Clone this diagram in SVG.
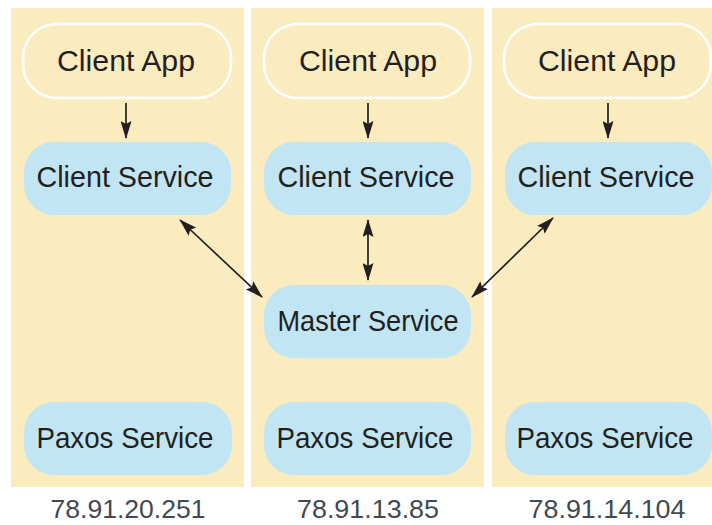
<svg xmlns="http://www.w3.org/2000/svg" width="712" height="525" viewBox="0 0 712 525">
<style>
.panel{fill:#FBECC0}
.app{fill:#FBECC0;stroke:#FFFFFF;stroke-width:2.5}
.svc{fill:#C1E5F3}
.t{font-family:"Liberation Sans",Arial,sans-serif;font-size:29px;fill:#231F20;text-anchor:middle}
.ip{font-family:"Liberation Sans",Arial,sans-serif;font-size:26px;fill:#414A4F;text-anchor:middle}
.c{stroke:#231F20;stroke-width:1.7;fill:none;marker-end:url(#ah)}
.d{marker-start:url(#ah)}
</style>
<defs>
<marker id="ah" viewBox="0 0 18 11" refX="17" refY="5.5" markerWidth="18" markerHeight="11" markerUnits="userSpaceOnUse" orient="auto-start-reverse">
<path d="M0,0 L18,5.5 L0,11 L3,5.5 z" fill="#231F20"/>
</marker>
</defs>
<rect width="712" height="525" fill="#FFFFFF"/>
<g id="host1">
<rect class="panel" x="11" y="8" width="233" height="479"/>
<text class="ip" x="128" y="518" textLength="155" lengthAdjust="spacingAndGlyphs">78.91.20.251</text>
</g>
<g id="host2">
<rect class="panel" x="251" y="8" width="233" height="479"/>
<text class="ip" x="368" y="518" textLength="142" lengthAdjust="spacingAndGlyphs">78.91.13.85</text>
</g>
<g id="host3">
<rect class="panel" x="492" y="8" width="220" height="479"/>
<text class="ip" x="607" y="518" textLength="157" lengthAdjust="spacingAndGlyphs">78.91.14.104</text>
</g>
<g id="app1"><rect class="app" x="23" y="24" width="208" height="74" rx="34"/><text class="t" x="126" y="71" textLength="138" lengthAdjust="spacingAndGlyphs">Client App</text></g>
<g id="app2"><rect class="app" x="264" y="24" width="206" height="74" rx="34"/><text class="t" x="368" y="71" textLength="138" lengthAdjust="spacingAndGlyphs">Client App</text></g>
<g id="app3"><rect class="app" x="504" y="24" width="207" height="74" rx="34"/><text class="t" x="607" y="71" textLength="138" lengthAdjust="spacingAndGlyphs">Client App</text></g>
<g id="cs1"><rect class="svc" x="24" y="142" width="207" height="73" rx="30"/><text class="t" x="125" y="187" textLength="177" lengthAdjust="spacingAndGlyphs">Client Service</text></g>
<g id="cs2"><rect class="svc" x="264" y="142" width="207" height="73" rx="30"/><text class="t" x="366" y="187" textLength="177" lengthAdjust="spacingAndGlyphs">Client Service</text></g>
<g id="cs3"><rect class="svc" x="505" y="142" width="207" height="73" rx="30"/><text class="t" x="606" y="187" textLength="177" lengthAdjust="spacingAndGlyphs">Client Service</text></g>
<g id="master"><rect class="svc" x="264" y="285" width="207" height="73" rx="30"/><text class="t" x="368" y="331" textLength="181" lengthAdjust="spacingAndGlyphs">Master Service</text></g>
<g id="px1"><rect class="svc" x="24" y="402" width="208" height="73" rx="30"/><text class="t" x="125" y="448" textLength="177" lengthAdjust="spacingAndGlyphs">Paxos Service</text></g>
<g id="px2"><rect class="svc" x="264" y="402" width="207" height="73" rx="30"/><text class="t" x="365" y="448" textLength="177" lengthAdjust="spacingAndGlyphs">Paxos Service</text></g>
<g id="px3"><rect class="svc" x="505" y="402" width="207" height="73" rx="30"/><text class="t" x="605" y="448" textLength="177" lengthAdjust="spacingAndGlyphs">Paxos Service</text></g>
<g id="connectors">
<line class="c" x1="126" y1="103" x2="126" y2="138"/>
<line class="c" x1="368" y1="103" x2="368" y2="138"/>
<line class="c" x1="608" y1="103" x2="608" y2="138"/>
<line class="c d" x1="368" y1="220" x2="368" y2="280"/>
<line class="c d" x1="180" y1="220" x2="262" y2="297"/>
<line class="c d" x1="553" y1="218" x2="472" y2="297"/>
</g>
</svg>
